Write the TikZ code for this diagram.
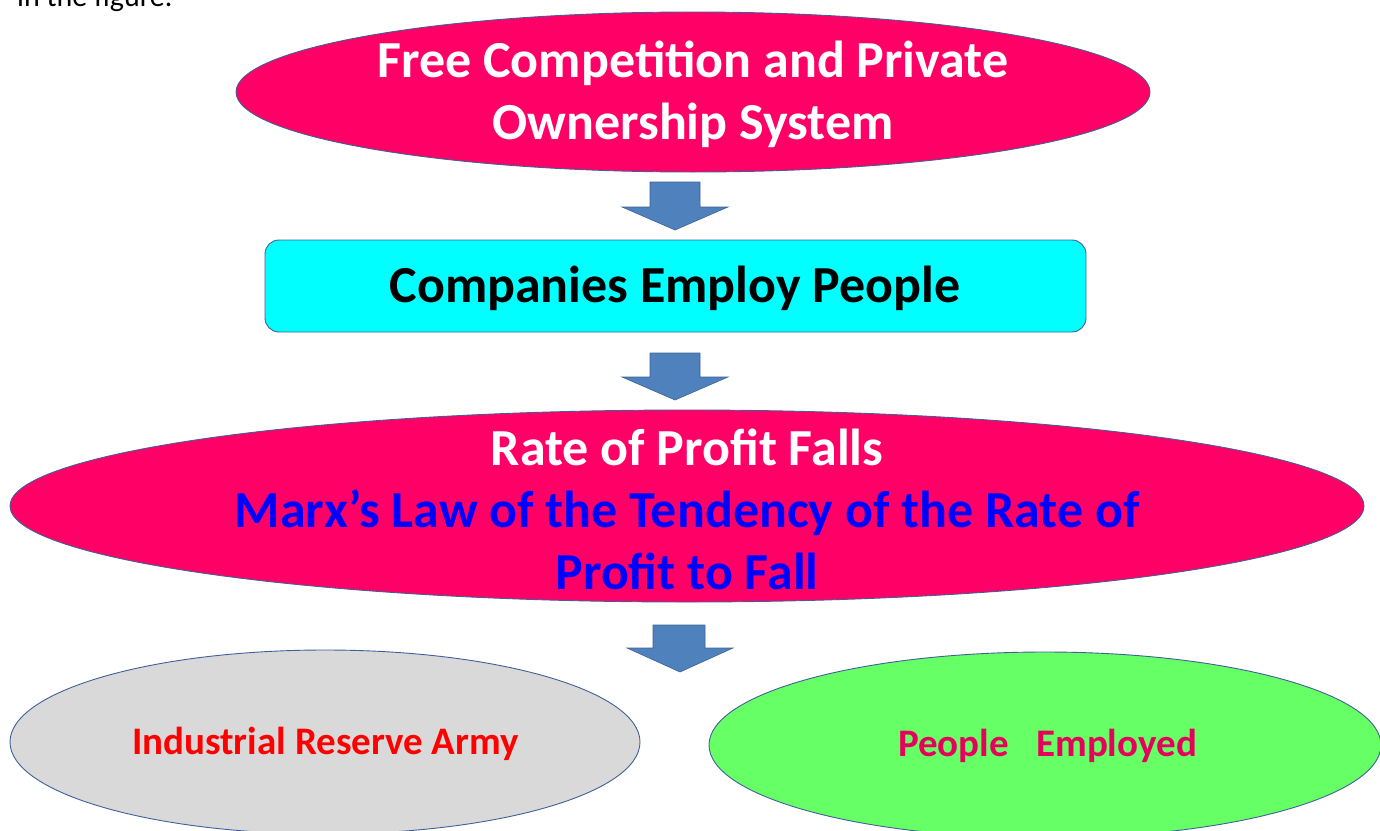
\documentclass[tikz,border=0pt]{standalone}
\usepackage{fontspec}
\setmainfont{Carlito}
\usetikzlibrary{shapes.geometric}
\definecolor{pinkfill}{HTML}{FF0066}
\definecolor{edgeblue}{HTML}{41609A}
\definecolor{arrowfill}{HTML}{4F81BD}
\definecolor{arrowedge}{HTML}{3B6496}
\definecolor{cyanfill}{HTML}{00FFFF}
\definecolor{greyfill}{HTML}{D9D9D9}
\definecolor{greenfill}{HTML}{66FF66}
\definecolor{marxblue}{HTML}{0000FF}
\definecolor{armyred}{HTML}{FF0000}
\definecolor{emplpink}{HTML}{E6005C}
\tikzset{
  ell/.style={draw=edgeblue, line width=0.9pt},
  bigtext/.style={font=\bfseries\fontsize{52}{62}\selectfont, align=center},
  smalltext/.style={font=\bfseries\fontsize{39}{46}\selectfont},
  downarrow/.style={fill=arrowfill, draw=arrowedge, line width=0.6pt, line join=miter},
}
\begin{document}
\begin{tikzpicture}[x=1pt,y=-1pt]
\useasboundingbox (0,0) rectangle (1380,830);
\clip (0,0) rectangle (1380,830);
% cut-off caption line at the top
\node[anchor=base west, inner sep=0, font=\fontsize{30}{36}\selectfont] (cap) at (17,6) {in the figure.};
% top ellipse
\draw[ell, fill=pinkfill] (693,92) ellipse [x radius=457, y radius=80];
\node[bigtext, text=white] (top) at (693,94) {Free Competition and Private\\Ownership System};
% arrow 1
\draw[downarrow] (650,182) -- (700,182) -- (700,207) -- (728,207) -- (675,230) -- (622,207) -- (650,207) -- cycle;
% box
\draw[draw=edgeblue, line width=0.9pt, fill=cyanfill, rounded corners=14pt] (265,240) rectangle (1086,332);
\node[bigtext, text=black] (comp) at (675,288) {Companies Employ People};
% arrow 2
\draw[downarrow] (650,353) -- (700,353) -- (700,377) -- (728,377) -- (675,400) -- (622,377) -- (650,377) -- cycle;
% big ellipse
\draw[ell, fill=pinkfill] (687,506) ellipse [x radius=677, y radius=96];
\node[bigtext, text=white] (rate) at (687,447) {Rate of Profit Falls};
\node[bigtext, text=marxblue] (marx) at (687,540) {Marx’s Law of the Tendency of the Rate of\\Profit to Fall};
% arrow 3
\draw[downarrow] (653,625) -- (705,625) -- (705,648) -- (733,648) -- (680,672) -- (627,648) -- (653,648) -- cycle;
% bottom ellipses
\draw[ell, fill=greyfill] (325,742) ellipse [x radius=315, y radius=92];
\node[smalltext, text=armyred] (army) at (325.5,744) {Industrial Reserve Army};
\draw[ell, fill=greenfill] (1045,745) ellipse [x radius=336, y radius=93];
\node[smalltext, text=emplpink] (empl) at (1047.5,746) {People\hspace{0.7em}Employed};
\end{tikzpicture}
\end{document}
